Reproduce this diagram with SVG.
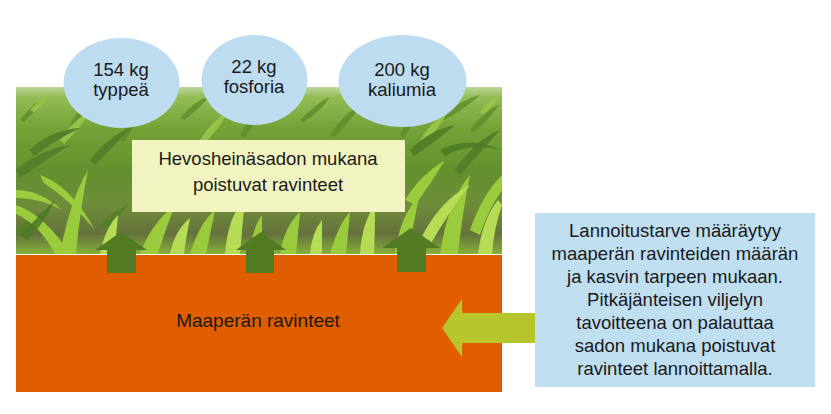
<svg xmlns="http://www.w3.org/2000/svg" width="831" height="414" viewBox="0 0 831 414">
<style>
.t{font-family:"Liberation Sans",Arial,sans-serif;font-size:18.5px;fill:#1a1a1a;text-anchor:middle}
.ell{fill:#BDDCF0}
.up{fill:#537B24}
.lf{stroke:none}
</style>
<defs>
<linearGradient id="field" x1="0" y1="0" x2="0" y2="1">
<stop offset="0" stop-color="#BCD69A"/>
<stop offset="0.06" stop-color="#93BC55"/>
<stop offset="0.25" stop-color="#74A236"/>
<stop offset="0.5" stop-color="#63912E"/>
<stop offset="0.72" stop-color="#6E8B3A"/>
<stop offset="0.88" stop-color="#66723C"/>
<stop offset="1" stop-color="#86B03A"/>
</linearGradient>
<clipPath id="pc"><rect x="16" y="87" width="486" height="167"/></clipPath>
</defs>
<rect width="831" height="414" fill="#fff"/>
<g id="photo" clip-path="url(#pc)">
<rect x="16" y="87" width="486" height="167" fill="url(#field)"/>
<g class="lf" fill="#5F8C2C" opacity="0.8">
<path d="M20 120 Q35 100 50 95 Q38 108 24 122Z"/>
<path d="M70 125 Q80 105 98 98 Q84 112 74 126Z"/>
<path d="M180 118 Q195 100 210 96 Q198 110 184 120Z"/>
<path d="M300 120 Q318 102 330 97 Q320 112 304 122Z"/>
<path d="M440 118 Q460 100 480 95 Q464 110 444 120Z"/>
<path d="M470 130 Q485 110 500 104 Q490 118 474 132Z"/>
<path d="M330 135 Q345 112 360 106 Q350 122 334 137Z"/>
<path d="M120 140 Q128 120 140 112 Q134 128 124 142Z"/>
<path d="M240 135 Q250 115 262 108 Q256 124 244 138Z"/>
<path d="M400 135 Q408 115 420 108 Q414 124 404 138Z"/>
</g>
<g class="lf" fill="#9CC84A" opacity="0.85">
<path d="M30 110 Q40 98 52 92 Q44 104 34 112Z"/>
<path d="M150 112 Q160 100 172 95 Q164 106 154 114Z"/>
<path d="M270 110 Q282 98 292 92 Q286 104 274 112Z"/>
<path d="M360 112 Q370 100 382 94 Q374 106 364 114Z"/>
<path d="M480 112 Q490 100 500 95 Q494 106 484 114Z"/>
<path d="M60 140 Q75 118 92 110 Q80 128 64 144Z"/>
<path d="M200 140 Q212 120 228 112 Q218 130 204 144Z"/>
<path d="M420 140 Q432 120 448 112 Q438 130 424 144Z"/>
</g>
<g class="lf" fill="#557F28">
<path d="M16 170 Q40 150 70 145 Q45 160 20 178Z"/>
<path d="M30 150 Q50 130 80 128 Q55 140 34 156Z"/>
<path d="M90 160 Q110 135 130 128 Q115 145 95 165Z"/>
<path d="M410 150 Q430 130 455 125 Q438 140 414 156Z"/>
<path d="M455 170 Q475 140 500 130 Q482 150 460 175Z"/>
<path d="M16 230 Q30 215 50 210 Q32 222 20 236Z"/>
<path d="M100 225 Q115 210 128 205 Q118 218 104 230Z"/>
</g>
<g class="lf" fill="#9ACB3C">
<path d="M16 205 Q45 215 70 254 L55 254 Q40 225 16 214Z"/>
<path d="M60 254 Q70 200 88 170 Q80 210 76 254Z"/>
<path d="M40 175 Q70 185 95 230 Q70 200 44 183Z"/>
<path d="M140 254 Q150 225 175 205 Q165 230 158 254Z"/>
<path d="M190 254 Q200 222 215 210 Q210 235 206 254Z"/>
<path d="M280 254 Q285 225 300 212 Q298 235 296 254Z"/>
<path d="M330 254 Q338 225 350 212 Q348 235 346 254Z"/>
<path d="M405 200 Q420 175 445 160 Q430 185 415 205Z"/>
<path d="M440 254 Q448 200 470 175 Q462 215 458 254Z"/>
<path d="M470 230 Q482 195 502 175 L502 190 Q488 210 480 235Z"/>
<path d="M395 254 Q400 215 420 195 Q412 225 410 254Z"/>
<path d="M16 190 Q40 190 62 210 Q40 198 16 198Z"/>
<path d="M250 254 Q252 228 262 215 Q262 236 262 254Z"/>
</g>
<g class="lf" fill="#B6DC55">
<path d="M225 254 Q228 215 245 200 Q242 230 240 254Z"/>
<path d="M360 254 Q362 222 375 205 Q375 232 374 254Z"/>
<path d="M100 254 Q105 228 118 215 Q116 238 114 254Z"/>
<path d="M420 240 Q440 200 470 185 Q450 210 430 245Z"/>
<path d="M310 254 Q312 232 322 220 Q322 238 322 254Z"/>
<path d="M170 254 Q175 230 190 218 Q186 238 184 254Z"/>
<path d="M478 254 Q482 220 498 200 L502 205 Q494 228 492 254Z"/>
</g>
<g class="lf" fill="#4C7A24" opacity="0.85">
<path d="M20 235 Q40 215 55 200 Q45 222 28 240Z"/>
<path d="M170 200 Q185 180 200 172 Q190 190 175 205Z"/>
<path d="M440 150 Q470 135 500 150 Q470 142 445 156Z"/>
</g>
</g>
<g id="soil">
<rect x="16" y="255" width="486" height="137" fill="#E05D00"/>
<text class="t" x="258" y="327" style="font-size:19px">Maaperän ravinteet</text>
</g>
<g id="n1"><ellipse class="ell" cx="121.5" cy="83" rx="58" ry="45"/><text class="t" x="121" y="76">154 kg</text><text class="t" x="121" y="96">typpeä</text></g>
<g id="n2"><ellipse class="ell" cx="254.5" cy="80" rx="53" ry="45"/><text class="t" x="254" y="73">22 kg</text><text class="t" x="254" y="93">fosforia</text></g>
<g id="n3"><ellipse class="ell" cx="402.5" cy="81" rx="64" ry="46"/><text class="t" x="402" y="76">200 kg</text><text class="t" x="402" y="96">kaliumia</text></g>
<g id="harvest"><rect x="132" y="140" width="273" height="72" fill="#F1F3C0"/><text class="t" x="268" y="165">Hevosheinäsadon mukana</text><text class="t" x="268" y="191">poistuvat ravinteet</text></g>
<g id="connectors">
<polygon class="up" points="107,273 107,250 95,250 121,232 147,250 136,250 136,273"/>
<polygon class="up" points="246,273 246,250 236,250 261,232 286,250 274,250 274,273"/>
<polygon class="up" points="397,272 397,248 382,248 411,228 440,248 426,248 426,272"/>
<polygon fill="#B7C62C" points="535,313 462,313 462,299 442,328 462,357 462,343 535,343"/>
</g>
<g id="info"><rect x="535" y="213" width="280" height="174" fill="#BFDFF1"/>
<text class="t" x="675" y="237">Lannoitustarve määräytyy</text>
<text class="t" x="675" y="260">maaperän ravinteiden määrän</text>
<text class="t" x="675" y="283">ja kasvin tarpeen mukaan.</text>
<text class="t" x="675" y="306">Pitkäjänteisen viljelyn</text>
<text class="t" x="675" y="329">tavoitteena on palauttaa</text>
<text class="t" x="675" y="352">sadon mukana poistuvat</text>
<text class="t" x="675" y="375">ravinteet lannoittamalla.</text>
</g>
</svg>
